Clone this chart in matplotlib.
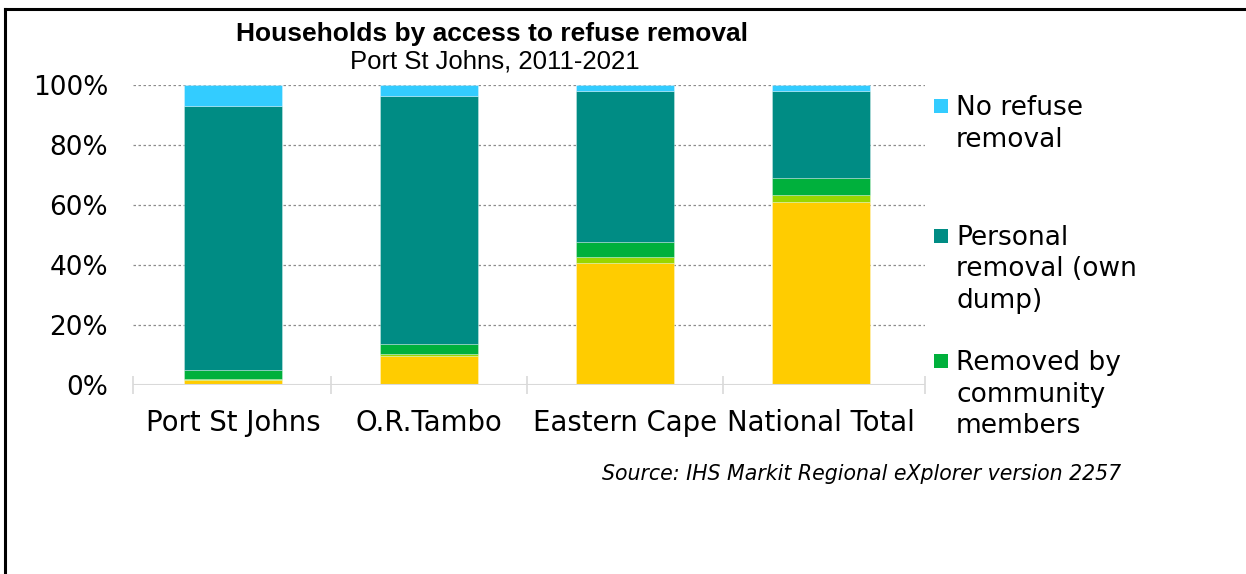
import matplotlib
matplotlib.use("Agg")
import matplotlib.pyplot as plt
from matplotlib.patches import Rectangle
from matplotlib.lines import Line2D
import numpy as np

# Share of households (%) by refuse removal type, stacked bottom to top
regions = ["Port St Johns", "O.R.Tambo", "Eastern Cape", "National Total"]
weekly_by_authority = [1.7, 9.7, 40.6, 61.0]
less_often_by_authority = [0.3, 0.5, 2.0, 2.3]
community_members = [2.9, 3.4, 5.0, 5.6]
own_dump = [88.1, 82.7, 50.3, 29.1]
no_removal = [7.0, 3.7, 2.1, 2.0]

series = [
    ("Removed weekly by authority", weekly_by_authority, "#FFCC00"),
    ("Removed less often than weekly by authority", less_often_by_authority, "#99D600"),
    ("Removed by community members", community_members, "#00B03C"),
    ("Personal removal (own dump)", own_dump, "#008C84"),
    ("No refuse removal", no_removal, "#33CCFF"),
]

yticks = [0, 20, 40, 60, 80, 100]
ytick_labels = ["0%", "20%", "40%", "60%", "80%", "100%"]

W, H = 1246, 574
fig = plt.figure(figsize=(W / 100, H / 100), dpi=100)
fig.patch.set_facecolor("white")

# frame around the chart area (top and left edges visible)
fig.add_artist(Line2D([5 / W, 5 / W], [-0.1, 1 - 9 / H], color="black", lw=2.2,
                      transform=fig.transFigure))
fig.add_artist(Line2D([5 / W, 1.1], [1 - 9 / H, 1 - 9 / H], color="black", lw=2.2,
                      transform=fig.transFigure))

ax = fig.add_axes([133 / W, 1 - 385 / H, 792 / W, 300 / H])
x = np.arange(len(regions))
bottom = np.zeros(len(regions))
for name, vals, col in series:
    vals = np.array(vals)
    ax.bar(x, vals, width=0.5, bottom=bottom, color=col, label=name,
           edgecolor=(1, 1, 1, 0.35), linewidth=0.6, zorder=3)
    bottom += vals

ax.set_xlim(-0.51, 3.53)
ax.set_ylim(0, 100)
for s in ax.spines.values():
    s.set_visible(False)

# dotted gridlines and light baseline
for yv in yticks[1:]:
    ax.axhline(yv, color="#8c8c8c", lw=0.9, ls=(0, (2, 2)), zorder=1)
ax.axhline(0, color="#d9d9d9", lw=1.5, zorder=4)

ax.set_yticks(yticks)
ax.set_yticklabels(ytick_labels)
ax.tick_params(axis="y", length=0, pad=18, labelsize=19, labelcolor="black")

ax.set_xticks(x)
ax.set_xticklabels(regions)
ax.tick_params(axis="x", which="major", length=0, pad=17, labelsize=19.8)
ax.set_xticks([-0.51, 0.5, 1.5, 2.5, 3.53], minor=True)
ax.tick_params(axis="x", which="minor", direction="inout", length=13.5,
               width=1.2, color="#d9d9d9")

for lab in ax.get_xticklabels() + ax.get_yticklabels():
    lab.set_family("DejaVu Sans")

# titles
fig.text(492 / W, 1 - 41 / H, "Households by access to refuse removal",
         ha="center", va="baseline", fontsize=19, fontweight="bold",
         family="Liberation Sans")
fig.text(495 / W, 1 - 68 / H, "Port St Johns, 2011-2021",
         ha="center", va="baseline", fontsize=18.5, family="Liberation Sans")

# legend (entries placed in fixed slots)
legend_entries = [
    (series[4][2], ["No refuse", "removal"], 115),
    (series[3][2], ["Personal", "removal (own", "dump)"], 245),
    (series[2][2], ["Removed by", "community", "members"], 370),
]
for col, lines, base in legend_entries:
    fig.add_artist(Rectangle((934 / W, 1 - (base - 2) / H), 14 / W, 14 / H,
                             transform=fig.transFigure, facecolor=col,
                             edgecolor="none"))
    for i, t in enumerate(lines):
        fig.text(956 / W, 1 - (base + i * 31.5) / H, t, ha="left",
                 va="baseline", fontsize=19, family="DejaVu Sans")

# source note
fig.text(1121 / W, 1 - 480 / H, "Source: IHS Markit Regional eXplorer version 2257",
         ha="right", va="baseline", fontsize=14.8, style="italic",
         family="DejaVu Sans")

fig.savefig("out.png", dpi=100, facecolor="white")
